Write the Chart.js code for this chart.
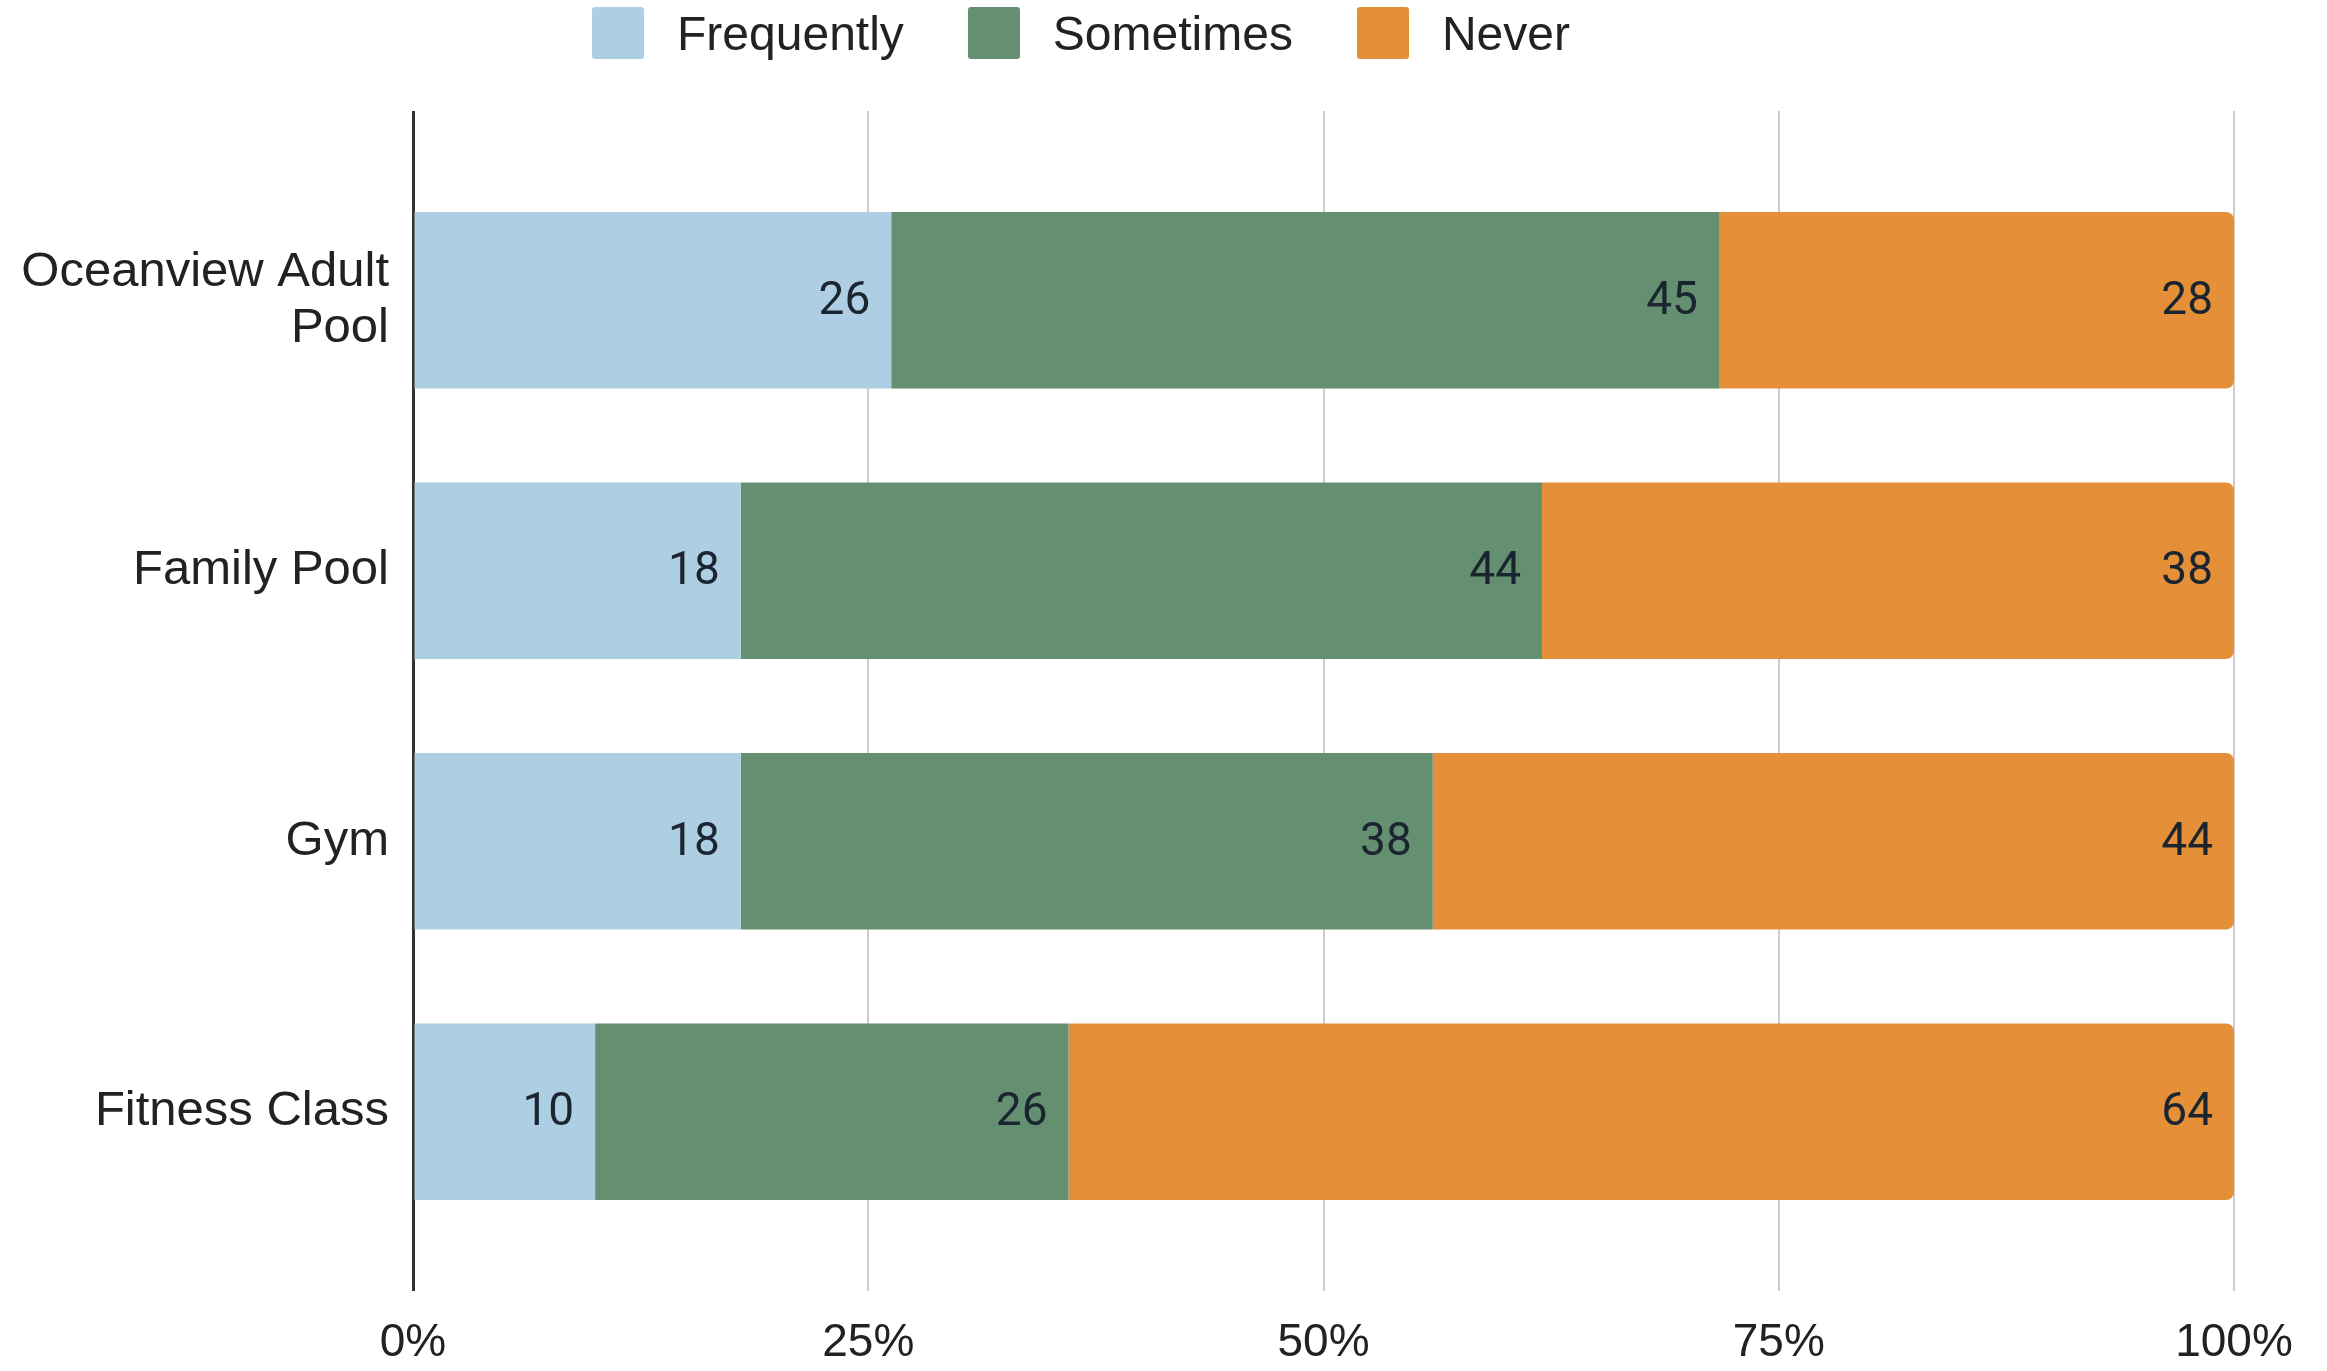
<!DOCTYPE html>
<html>
<head>
<meta charset="utf-8">
<script src="https://cdn.jsdelivr.net/npm/chart.js@4"></script>
<style>
  html, body { margin: 0; padding: 0; background: #fff; }
  #wrap { position: relative; width: 2327px; height: 1371px; }
  #legend {
    position: absolute; top: 0; left: 0; width: 2162px; height: 66px;
    display: flex; justify-content: center; align-items: center;
    font-family: "Liberation Sans", Arial, sans-serif; font-size: 48px; color: #222;
  }
  #legend .item { display: flex; align-items: center; margin-right: 64px; }
  #legend .item:last-child { margin-right: 0; }
  #legend .box { width: 52px; height: 52px; border-radius: 3px; margin-right: 33px; }
</style>
</head>
<body>
<div id="wrap">
  <div id="legend"></div>
  <canvas id="usageChart"></canvas>
</div>
<script>
// Facility usage survey, 100% stacked bars

const facilities = [["Oceanview Adult", "Pool"], "Family Pool", "Gym", "Fitness Class"];
const frequently = [26, 18, 18, 10];
const sometimes = [45, 44, 38, 26];
const never = [28, 38, 44, 64];
const xTicks = [0, 25, 50, 75, 100];

// share of each answer per facility (rows don't always add to exactly 100)
const totals = facilities.map((f, i) => frequently[i] + sometimes[i] + never[i]);
const toPct = (arr) => arr.map((v, i) => (v / totals[i]) * 100);

// count labels drawn inside the right end of each segment
const countLabels = {
  id: "countLabels",
  afterDatasetsDraw(chart) {
    const ctx = chart.ctx;
    ctx.save();
    ctx.font = "46px Roboto";
    ctx.fillStyle = "#1b2530";
    ctx.textAlign = "right";
    ctx.textBaseline = "middle";
    chart.data.datasets.forEach((ds, di) => {
      chart.getDatasetMeta(di).data.forEach((bar, i) => {
        ctx.fillText(String(ds.counts[i]), bar.x - 21, bar.y + 2);
      });
    });
    ctx.restore();
  },
};

const gridColor = (c) => (c.tick && c.tick.value === 0 ? "#333333" : "#cccccc");
const gridWidth = (c) => (c.tick && c.tick.value === 0 ? 3 : 2);
const fixedTicks = (s) => {
  s.ticks = xTicks.map((v) => ({ value: v }));
};

const usageChart = document.getElementById("usageChart").getContext("2d");

const chart = new Chart(usageChart, {
  type: "bar",
  data: {
    labels: facilities,
    datasets: [
      {
        label: "Frequently",
        data: toPct(frequently),
        counts: frequently,
        backgroundColor: "#aecee4",
      },
      {
        label: "Sometimes",
        data: toPct(sometimes),
        counts: sometimes,
        backgroundColor: "#658f71",
      },
      {
        label: "Never",
        data: toPct(never),
        counts: never,
        backgroundColor: "#e59039",
        borderRadius: 8,
        borderSkipped: "start",
      },
    ],
  },
  options: {
    indexAxis: "y",
    responsive: true,
    maintainAspectRatio: false,
    animation: false,
    categoryPercentage: 1,
    barPercentage: 0.653,
    layout: { padding: { left: 0, right: 93, top: 0, bottom: 0 } },
    scales: {
      x: {
        stacked: true,
        min: 0,
        max: 100,
        afterBuildTicks: fixedTicks,
        afterFit: (s) => {
          s.height = 124;
        },
        grid: {
          color: gridColor,
          lineWidth: gridWidth,
          tickLength: 44,
        },
        border: { display: false },
        ticks: {
          padding: 25,
          color: "#222222",
          font: { family: "Liberation Sans", size: 46 },
          callback: (v) => v + "%",
        },
      },
      xTop: {
        position: "top",
        min: 0,
        max: 100,
        afterBuildTicks: fixedTicks,
        afterFit: (s) => {
          s.height = 165;
        },
        grid: {
          color: gridColor,
          lineWidth: gridWidth,
          tickLength: 54,
          drawOnChartArea: false,
        },
        border: { display: false },
        ticks: { display: false },
      },
      y: {
        stacked: true,
        afterFit: (s) => {
          s.width = 413;
        },
        grid: { display: false, drawTicks: false },
        border: { display: false },
        ticks: {
          padding: 24,
          color: "#222222",
          font: { family: "Liberation Sans", size: 49, lineHeight: 1.15 },
        },
      },
    },
    plugins: {
      legend: { display: false },
      tooltip: { enabled: false },
    },
  },
  plugins: [countLabels],
});

// html legend built from the datasets
const legendEl = document.getElementById("legend");
chart.data.datasets.forEach((ds) => {
  const item = document.createElement("div");
  item.className = "item";
  const box = document.createElement("span");
  box.className = "box";
  box.style.background = ds.backgroundColor;
  const text = document.createElement("span");
  text.textContent = ds.label;
  item.appendChild(box);
  item.appendChild(text);
  legendEl.appendChild(item);
});
</script>
</body>
</html>
